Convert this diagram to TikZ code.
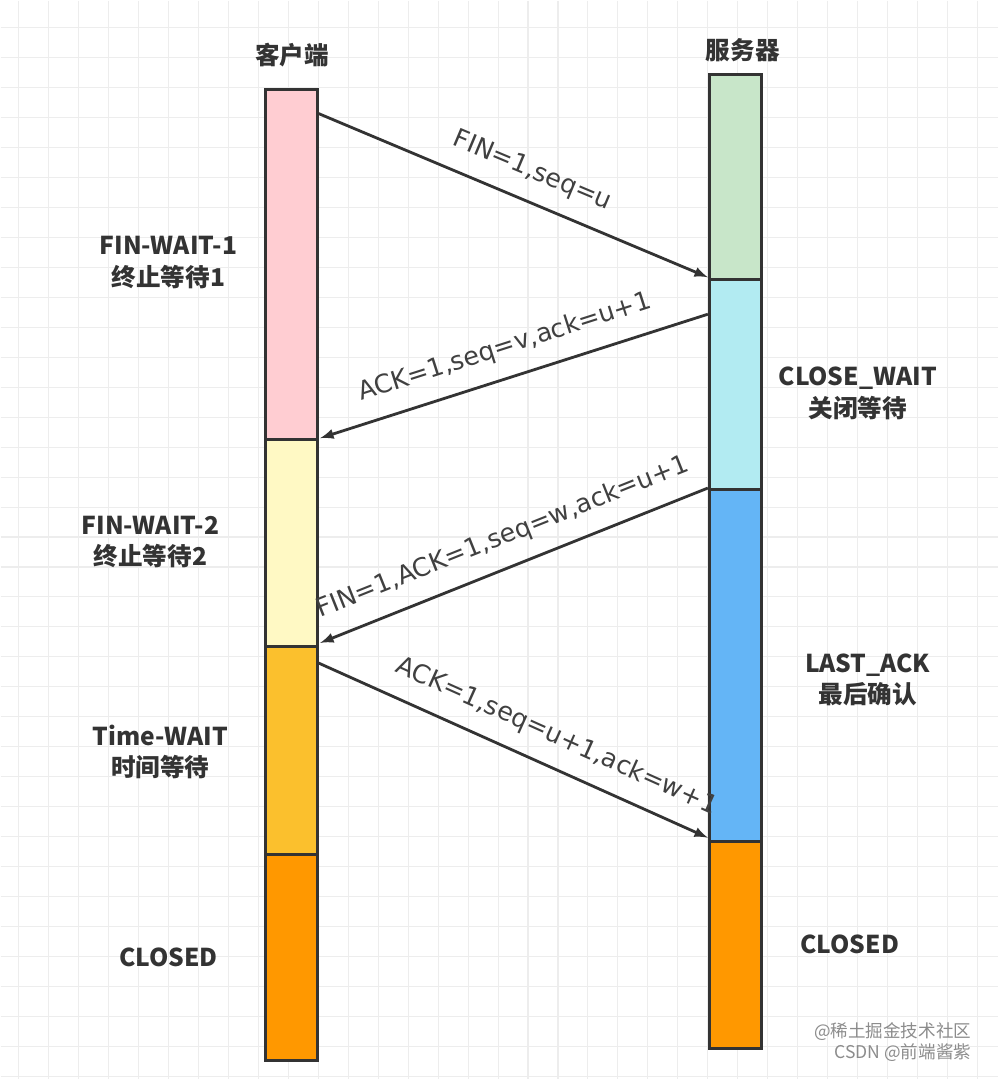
\documentclass[tikz,border=0pt]{standalone}
\usepackage{fontspec}
\setmainfont{Noto Sans CJK SC}
\newfontfamily\lblfont{DejaVu Sans}
\definecolor{cpink}{HTML}{FFCDD2}
\definecolor{cyellow}{HTML}{FFF9C4}
\definecolor{camber}{HTML}{FBC02D}
\definecolor{corange}{HTML}{FF9800}
\definecolor{cgreen}{HTML}{C8E6C9}
\definecolor{ccyan}{HTML}{B2EBF2}
\definecolor{cblue}{HTML}{64B5F6}
\begin{document}
\begin{tikzpicture}[x=0.02cm, y=-0.02cm,
  every node/.style={font=\fontsize{14}{17}\selectfont},
  seg/.style={draw=black!80, line width=1.6pt, minimum width=1.04cm, anchor=north, inner sep=0pt},
  state/.style={font=\fontsize{14}{18}\selectfont\bfseries, text=black!80, align=center},
  msg/.style={->, line width=1.6pt, draw=black!80, >=latex},
  lbl/.style={sloped, above=6pt, text=black!75, font=\lblfont\fontsize{14.5}{17}\selectfont}]
% background grid
\fill[white] (0,0) rectangle (998,1080);
\foreach \x in {18,48,...,998} \draw[black!7, line width=0.6pt] (\x,0) -- (\x,1080);
\foreach \y in {27,57,...,1080} \draw[black!7, line width=0.6pt] (0,\y) -- (998,\y);
\useasboundingbox (0,0) rectangle (998,1080);
% titles
\node[font=\fontsize{14}{17}\selectfont\bfseries, text=black!80] (client) at (292,55) {客户端};
\node[font=\fontsize{14}{17}\selectfont\bfseries, text=black!80] (server) at (743,50) {服务器};
% client bar
\node[seg, fill=cpink, minimum height=7cm] (c1) at (291,88) {};
\node[seg, fill=cyellow, minimum height=4.14cm] (c2) at (291,438) {};
\node[seg, fill=camber, minimum height=4.16cm] (c3) at (291,645) {};
\node[seg, fill=corange, minimum height=4.14cm] (c4) at (291,853) {};
% server bar
\node[seg, fill=cgreen, minimum height=4.1cm] (s1) at (736,73) {};
\node[seg, fill=ccyan, minimum height=4.2cm] (s2) at (736,278) {};
\node[seg, fill=cblue, minimum height=7.04cm] (s3) at (736,488) {};
\node[seg, fill=corange, minimum height=4.16cm] (s4) at (736,840) {};
% state labels
\node[state] (cs1) at (168,262) {FIN-WAIT-1\\终止等待1};
\node[state] (cs2) at (150,542) {FIN-WAIT-2\\终止等待2};
\node[state] (cs3) at (160,752) {Time-WAIT\\时间等待};
\node[state] (cs4) at (168,958) {CLOSED};
\node[state] (ss2) at (858,393) {CLOSE\_WAIT\\关闭等待};
\node[state] (ss3) at (868,680) {LAST\_ACK\\最后确认};
\node[state] (ss4) at (850,945) {CLOSED};
% message end points
\coordinate (a1) at (318,113); \coordinate (b1) at (708,277);
\coordinate (a2) at (708,314); \coordinate (b2) at (320,438);
\coordinate (a3) at (708,488); \coordinate (b3) at (320,643);
\coordinate (a4) at (318,663); \coordinate (b4) at (708,838);
\draw[msg] (a1) -- node[lbl, pos=0.52] {FIN=1,seq=u} (b1);
\draw[msg] (a2) -- node[lbl, pos=0.5] {ACK=1,seq=v,ack=u+1} (b2);
\draw[msg] (a3) -- node[lbl, pos=0.5] {FIN=1,ACK=1,seq=w,ack=u+1} (b3);
\draw[msg] (a4) -- node[lbl, pos=0.58] {ACK=1,seq=u+1,ack=w+1} (b4);
% watermark
\node[text=black!45, font=\fontsize{10}{12}\selectfont, align=right] (wm) at (893,1043) {@稀土掘金技术社区\\\ \ CSDN @前端酱紫};
\end{tikzpicture}
\end{document}
